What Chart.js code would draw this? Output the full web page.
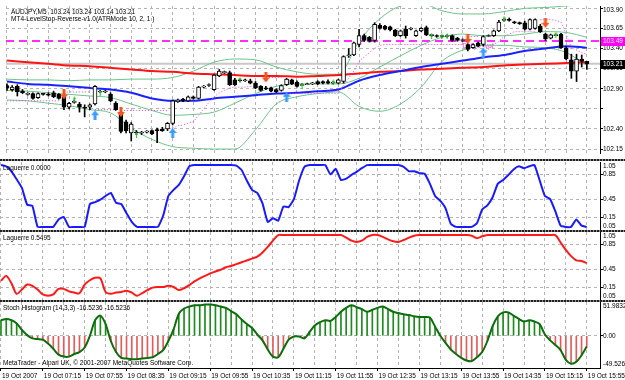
<!DOCTYPE html>
<html lang="es">
<head>
<meta charset="utf-8">
<title>AUDJPY M5</title>
<script src="https://cdn.jsdelivr.net/npm/chart.js@4.4.1/dist/chart.umd.min.js"></script>
<style>
  html, body { margin: 0; padding: 0; background: #ffffff; }
  #grafico { position: relative; width: 625px; height: 380px; overflow: hidden; background: #ffffff; }
  #grafico canvas { position: absolute; left: 0; }
  .separador { position: absolute; left: 0; width: 625px; height: 2px;
    background: repeating-linear-gradient(90deg, #202020 0 2px, #8c8c8c 2px 3px); }
</style>
</head>
<body>
<div id="grafico">
  <canvas id="cPrecio" width="625" height="159" style="top:0"></canvas>
  <canvas id="cLaguerre1" width="625" height="70" style="top:161px"></canvas>
  <canvas id="cLaguerre2" width="625" height="70" style="top:231px"></canvas>
  <canvas id="cStoch" width="625" height="79" style="top:301px"></canvas>
  <div class="separador" style="top:159px"></div>
  <div class="separador" style="top:230px"></div>
  <div class="separador" style="top:300px"></div>
</div>
<script>
// --- DATOS DEL GRÁFICO ---
const simbolo = 'AUDJPY,M5';
const nombreIndicador = 'MT4-LevelStop-Reverse-v1.0(ATRMode 10, 2, 1 )';
const pieTexto = 'MetaTrader - Alpari UK, © 2001-2007 MetaQuotes Software Corp.';

// una etiqueta cada 8 velas (40 minutos)
const etiquetasTiempo = ['19 Oct 2007', '19 Oct 07:15', '19 Oct 07:55', '19 Oct 08:35', '19 Oct 09:15',
    '19 Oct 09:55', '19 Oct 10:35', '19 Oct 11:15', '19 Oct 11:55', '19 Oct 12:35', '19 Oct 13:15',
    '19 Oct 13:55', '19 Oct 14:35', '19 Oct 15:15', '19 Oct 15:55'];

const aperturas = [
    102.94, 102.89, 102.93, 102.87, 102.83, 102.84, 102.79, 102.84, 102.83, 102.85,
    102.83, 102.80, 102.67, 102.73, 102.71, 102.67, 102.67, 102.71, 102.86, 102.86,
    102.83, 102.72, 102.61, 102.49, 102.35, 102.36, 102.35, 102.36, 102.38, 102.39,
    102.40, 102.40, 102.47, 102.74, 102.77, 102.75, 102.80, 102.78, 102.92, 102.94,
    102.89, 103.06, 103.10, 103.10, 103.01, 103.01, 103.00, 103.00, 102.97, 102.93,
    102.91, 102.91, 102.89, 102.88, 102.95, 103.01, 102.98, 102.94, 102.95, 102.96,
    102.99, 102.99, 102.99, 102.97, 102.97, 102.99, 103.31, 103.32, 103.45, 103.56,
    103.54, 103.50, 103.69, 103.68, 103.67, 103.63, 103.56, 103.64, 103.64, 103.56,
    103.62, 103.66, 103.57, 103.56, 103.56, 103.55, 103.56, 103.53, 103.50, 103.45,
    103.41, 103.47, 103.45, 103.55, 103.56, 103.62, 103.75, 103.76, 103.73, 103.72,
    103.72, 103.64, 103.65, 103.68, 103.58, 103.53, 103.56, 103.58, 103.41, 103.26,
    103.12, 103.27, 103.24];
const maximos = [
    102.96, 102.94, 102.95, 102.89, 102.85, 102.85, 102.85, 102.84, 102.85, 102.87,
    102.84, 102.84, 102.73, 102.76, 102.73, 102.70, 102.71, 102.94, 102.88, 102.88,
    102.85, 102.74, 102.62, 102.51, 102.48, 102.38, 102.37, 102.38, 102.39, 102.41,
    102.42, 102.48, 102.76, 102.77, 102.78, 102.81, 102.81, 102.93, 102.94, 102.96,
    103.08, 103.14, 103.12, 103.12, 103.03, 103.02, 103.02, 103.02, 102.99, 102.94,
    102.93, 102.92, 102.90, 102.95, 103.03, 103.02, 103.00, 102.96, 102.97, 102.98,
    103.00, 103.00, 103.01, 102.99, 103.02, 103.31, 103.40, 103.48, 103.64, 103.58,
    103.55, 103.72, 103.71, 103.69, 103.68, 103.64, 103.63, 103.68, 103.66, 103.63,
    103.66, 103.68, 103.57, 103.57, 103.56, 103.57, 103.57, 103.54, 103.52, 103.46,
    103.46, 103.48, 103.56, 103.57, 103.63, 103.75, 103.77, 103.78, 103.74, 103.73,
    103.74, 103.77, 103.77, 103.70, 103.59, 103.58, 103.58, 103.59, 103.42, 103.33,
    103.33, 103.32, 103.24];
const minimos = [
    102.88, 102.87, 102.81, 102.84, 102.82, 102.77, 102.78, 102.82, 102.81, 102.79,
    102.77, 102.64, 102.65, 102.72, 102.61, 102.55, 102.64, 102.70, 102.85, 102.85,
    102.74, 102.63, 102.35, 102.35, 102.25, 102.33, 102.33, 102.35, 102.33, 102.23,
    102.37, 102.38, 102.45, 102.73, 102.74, 102.74, 102.77, 102.77, 102.91, 102.93,
    102.88, 103.05, 103.09, 102.94, 102.94, 102.99, 102.99, 102.96, 102.90, 102.87,
    102.89, 102.86, 102.85, 102.87, 102.94, 102.95, 102.92, 102.94, 102.95, 102.95,
    102.95, 102.96, 102.96, 102.96, 102.96, 102.97, 103.29, 103.31, 103.42, 103.49,
    103.48, 103.48, 103.64, 103.63, 103.62, 103.55, 103.55, 103.53, 103.63, 103.55,
    103.61, 103.56, 103.55, 103.54, 103.54, 103.54, 103.49, 103.49, 103.49, 103.37,
    103.40, 103.42, 103.43, 103.55, 103.55, 103.61, 103.74, 103.74, 103.71, 103.70,
    103.63, 103.63, 103.64, 103.60, 103.50, 103.52, 103.56, 103.40, 103.26, 103.03,
    102.99, 103.17, 103.14];
const cierres = [
    102.91, 102.92, 102.86, 102.85, 102.84, 102.78, 102.84, 102.83, 102.82, 102.80,
    102.78, 102.67, 102.72, 102.74, 102.67, 102.66, 102.70, 102.93, 102.87, 102.87,
    102.75, 102.64, 102.37, 102.38, 102.46, 102.35, 102.36, 102.37, 102.34, 102.38,
    102.38, 102.47, 102.75, 102.76, 102.75, 102.80, 102.78, 102.92, 102.93, 102.95,
    103.07, 103.12, 103.11, 102.95, 102.95, 103.00, 103.01, 102.97, 102.91, 102.88,
    102.90, 102.87, 102.86, 102.94, 103.02, 102.96, 102.93, 102.95, 102.96, 102.97,
    102.96, 102.97, 102.97, 102.98, 103.01, 103.30, 103.32, 103.47, 103.56, 103.50,
    103.49, 103.70, 103.65, 103.64, 103.63, 103.56, 103.62, 103.56, 103.65, 103.62,
    103.65, 103.57, 103.56, 103.55, 103.55, 103.56, 103.50, 103.50, 103.51, 103.39,
    103.45, 103.43, 103.55, 103.56, 103.62, 103.73, 103.76, 103.75, 103.72, 103.71,
    103.64, 103.76, 103.76, 103.61, 103.52, 103.57, 103.57, 103.41, 103.27, 103.12,
    103.27, 103.24, 103.21];

// lineas suaves leidas cada 4 velas
const barrasMuestra = [0, 4, 8, 12, 16, 20, 24, 28, 32, 36, 40, 44, 48, 52, 56, 60, 64, 68, 72, 76,
    80, 84, 88, 92, 96, 100, 104, 108, 112];
const bandaSuperior = [103.02, 103.01, 103.01, 103.00, 103.01, 103.01, 103.02, 103.02, 103.04, 103.12,
    103.23, 103.27, 103.26, 103.17, 103.11, 103.08, 103.08, 103.49, 103.77, 103.93,
    103.96, 103.87, 103.83, 103.83, 103.86, 103.90, 103.91, 103.93, 103.95];
const bandaMedia = [102.88, 102.87, 102.85, 102.83, 102.81, 102.79, 102.71, 102.63, 102.57, 102.58,
    102.61, 102.72, 102.84, 102.93, 102.96, 102.96, 102.96, 103.03, 103.17, 103.31,
    103.44, 103.54, 103.58, 103.56, 103.56, 103.58, 103.61, 103.60, 103.54];
const bandaInferior = [102.76, 102.75, 102.72, 102.69, 102.64, 102.60, 102.41, 102.27, 102.18, 102.16,
    102.15, 102.15, 102.39, 102.71, 102.80, 102.84, 102.86, 102.68, 102.62, 102.71,
    102.92, 103.24, 103.38, 103.44, 103.44, 103.42, 103.41, 103.35, 103.19];
const mediaRoja = [103.25, 103.23, 103.21, 103.19, 103.18, 103.16, 103.14, 103.12, 103.11, 103.09,
    103.08, 103.07, 103.06, 103.06, 103.05, 103.06, 103.07, 103.09, 103.11, 103.12,
    103.14, 103.15, 103.16, 103.17, 103.19, 103.20, 103.21, 103.22, 103.23];
const mediaAzul = [102.99, 102.96, 102.95, 102.93, 102.91, 102.89, 102.85, 102.78, 102.75, 102.75,
    102.78, 102.80, 102.82, 102.84, 102.85, 102.87, 102.89, 103.00, 103.07, 103.12,
    103.17, 103.21, 103.25, 103.29, 103.32, 103.37, 103.40, 103.43, 103.41];

// LevelStop-Reverse: stop largo (debajo) y corto (encima)
const stopLargo = [
    102.75, 102.75, 102.75, 102.75, 102.75, 102.75, 102.75, 102.75, 102.75, 102.75,
    102.75, null, null, null, null, null, null, 102.64, 102.64, 102.64,
    102.64, 102.64, null, null, null, null, null, null, null, null,
    null, null, 102.41, 102.44, 102.45, 102.47, 102.49, 102.57, 102.65, 102.73,
    102.80, 102.85, 102.88, 102.91, 102.92, 102.92, 102.92, 102.93, 102.93, 102.93,
    null, null, null, null, 102.84, 102.84, 102.84, 102.84, 102.84, 102.84,
    102.84, 102.84, 102.84, 102.84, 102.84, 102.95, 103.03, 103.12, 103.24, 103.30,
    103.35, 103.40, 103.44, 103.45, 103.45, 103.45, 103.45, 103.45, 103.45, 103.45,
    103.45, 103.45, 103.45, 103.45, 103.45, 103.45, 103.45, 103.45, 103.45, null,
    null, null, 103.35, 103.39, 103.45, 103.49, 103.55, 103.58, 103.61, 103.61,
    103.61, 103.61, 103.61, null, null, null, null, null, null, null,
    null, null, null];
const stopCorto = [
    null, null, null, null, null, null, null, null, null, null,
    null, 102.86, 102.86, 102.86, 102.86, 102.86, 102.86, null, null, null,
    null, null, 102.63, 102.63, 102.63, 102.63, 102.63, 102.63, 102.63, 102.63,
    102.63, 102.63, null, null, null, null, null, null, null, null,
    null, null, null, null, null, null, null, null, null, null,
    103.04, 103.04, 103.04, 103.04, null, null, null, null, null, null,
    null, null, null, null, null, null, null, null, null, null,
    null, null, null, null, null, null, null, null, null, null,
    null, null, null, null, null, null, null, null, null, 103.55,
    103.55, 103.55, null, null, null, null, null, null, null, null,
    null, null, null, 103.76, 103.76, 103.76, 103.75, 103.73, 103.58, 103.41,
    103.38, 103.35, 103.33];

const pivoteDiario = 103.49;
const barraTextoPivote = 88;

// flechas de señal
const barrasVenta = [11, 22, 50, 89, 104];
const nivelesVenta = [102.83, 102.61, 103.04, 103.52, 103.72];
const barrasCompra = [17, 32, 54, 92];
const nivelesCompra = [102.57, 102.35, 102.80, 103.35];
const barrasMarca = [13, 18, 25, 45, 57, 63, 82, 84, 85, 96, 106];
const nivelesMarca = [102.77, 102.85, 102.33, 103.01, 102.94, 102.98, 103.56, 103.55, 103.55, 103.77, 103.57];

const laguerreRapido = [
    1.00, 0.98, 0.90, 0.77, 0.63, 0.36, 0.34, 0, 0, 0,
    0, 0.12, 0.16, 0, 0, 0, 0, 0.37, 0.40, 0.44,
    0.50, 0.55, 0.39, 0.37, 0.22, 0.08, 0, 0, 0, 0,
    0, 0.18, 0.50, 0.60, 0.68, 0.82, 0.98, 1, 1, 1,
    1, 1, 1, 1, 1, 0.99, 0.92, 0.75, 0.60, 0.55,
    0.38, 0.08, 0.14, 0.10, 0.33, 0.32, 0.45, 0.75, 0.97, 1,
    1, 1, 1, 0.85, 0.94, 0.76, 0.78, 0.84, 0.89, 0.95,
    1, 1, 1, 1, 1, 1, 1, 0.97, 0.90, 0.90,
    0.87, 0.86, 0.70, 0.50, 0.42, 0.30, 0.05, 0, 0, 0,
    0, 0.06, 0.28, 0.35, 0.48, 0.70, 0.76, 0.84, 0.93, 0.98,
    0.95, 0.98, 1, 0.75, 0.50, 0.45, 0.25, 0.02, 0, 0,
    0.12, 0.02, 0];
const laguerreLento = [
    0.26, 0.34, 0.22, 0.05, 0.12, 0.20, 0.18, 0.12, 0.04, 0.02,
    0.04, 0.13, 0.13, 0.09, 0.07, 0.06, 0.20, 0.27, 0.31, 0.30,
    0.08, 0.05, 0.07, 0.08, 0.10, 0.07, 0.02, 0.06, 0.11, 0.15,
    0.16, 0.16, 0.18, 0.16, 0.11, 0.14, 0.19, 0.25, 0.30, 0.34,
    0.38, 0.41, 0.44, 0.48, 0.50, 0.53, 0.56, 0.59, 0.62, 0.65,
    0.72, 0.81, 0.91, 1, 1, 1, 1, 1, 1, 1,
    1, 1, 1, 1, 1, 1, 0.96, 0.91, 0.89, 0.91,
    0.97, 1, 1, 0.97, 0.93, 0.90, 0.89, 0.92, 0.96, 0.99,
    1, 1, 1, 1, 1, 1, 1, 1, 1, 1,
    0.99, 0.95, 0.98, 1, 1, 1, 1, 1, 1, 1,
    1, 1, 1, 1, 1, 1, 1, 0.88, 0.76, 0.66,
    0.59, 0.58, 0.5495];
const stochHistograma = [
    24, 26, 24, 19, 9, 1, -4, -5, -6, -12,
    -20, -29, -32, -32, -28, -25, -18, 0, 24, 31,
    18, -8, -25, -34, -35, -36, -36, -35, -34, -33,
    -28, -22, -8, 10, 34, 42, 45, 47, 47, 48,
    48, 47, 45, 43, 38, 33, 25, 18, 12, 2,
    -7, -21, -32, -33, -20, -6, -1, -1, -4, 6,
    16, 21, 24, 23, 29, 37, 43, 47, 44, 41,
    37, 40, 43, 45, 41, 37, 35, 33, 32, 30,
    29, 29, 28, 14, 0, -11, -21, -28, -34, -38,
    -39, -33, -25, -8, 15, 30, 36, 36, 31, 26,
    22, 24, 22, 18, 2, -7, -14, -22, -37, -43,
    -40, -30, -16.5236];
const stochMaximo = 51.9832;
const stochMinimo = -49.5264;

// --- CONFIGURACIÓN GENERAL ---
const FAMILIA = '"Liberation Sans", Arial, sans-serif';
const TAM = 6.5;
const FUENTE = TAM + 'px ' + FAMILIA;
const COLOR_REJILLA = '#b4b4b4';
const X_MIN = -0.19;
const X_MAX = 114.53;

const porBarra = (valores) => valores.map((v, i) => ({ x: i, y: v }));
const enBarras = (barras, valores) => barras.map((b, i) => ({ x: b, y: valores[i] }));

function ejeX(conEtiquetas) {
    return {
        type: 'linear',
        min: X_MIN,
        max: X_MAX,
        offset: false,
        afterBuildTicks: (escala) => {
            const marcas = [];
            for (let i = 0; i < cierres.length; i += 4) marcas.push({ value: i });
            escala.ticks = marcas;
        },
        grid: {
            offset: false,
            color: COLOR_REJILLA,
            drawTicks: conEtiquetas,
            tickLength: 3,
            tickBorderDash: [],
            tickColor: (c) => (c.tick && c.tick.value % 8 === 0) ? '#000' : 'rgba(0,0,0,0)'
        },
        border: { display: conEtiquetas, color: '#000', width: 1, dash: [3, 3] },
        ticks: {
            display: conEtiquetas,
            autoSkip: false,
            maxRotation: 0,
            align: 'start',
            padding: 1,
            labelOffset: 1,
            color: '#000',
            font: { family: FAMILIA, size: TAM },
            callback: (v) => (v % 8 === 0 ? etiquetasTiempo[v / 8] : '')
        },
        afterFit: (escala) => {
            escala.height = conEtiquetas ? 12 : 0;
            escala.paddingLeft = 0;
            escala.paddingRight = 0;
        }
    };
}

function ejeY(minimo, maximo, rejilla) {
    return {
        type: 'linear',
        position: 'right',
        min: minimo,
        max: maximo,
        afterBuildTicks: (escala) => { escala.ticks = rejilla.map((v) => ({ value: v })); },
        grid: { color: COLOR_REJILLA, drawTicks: true, tickLength: 3, tickColor: '#000', tickBorderDash: [] },
        border: { display: true, color: '#000', width: 1, dash: [3, 3] },
        ticks: { display: false },
        afterFit: (escala) => { escala.width = 25; escala.paddingTop = 0; escala.paddingBottom = 0; }
    };
}

function opciones(escalaY, conEtiquetasX, relleno) {
    return {
        responsive: false,
        animation: false,
        events: [],
        devicePixelRatio: 1,
        layout: { padding: relleno },
        plugins: { legend: { display: false }, tooltip: { enabled: false } },
        scales: { x: ejeX(conEtiquetasX), y: escalaY }
    };
}

// etiquetas del eje derecho y recuadros de precio
function ejeDerecho(valores, textos, recuadros) {
    return {
        id: 'ejeDerecho',
        afterDraw(chart) {
            const { ctx, chartArea } = chart;
            const y = chart.scales.y;
            ctx.save();
            ctx.font = FUENTE;
            ctx.textAlign = 'left';
            ctx.textBaseline = 'middle';
            ctx.fillStyle = '#000';
            valores.forEach((v, i) => {
                let py = y.getPixelForValue(v);
                py = Math.min(Math.max(py, chartArea.top + 4), chartArea.bottom - 4);
                ctx.fillText(textos[i], chartArea.right + 3, py);
            });
            (recuadros || []).forEach((r) => {
                const py = Math.round(y.getPixelForValue(r.valor));
                ctx.fillStyle = r.fondo;
                ctx.fillRect(chartArea.right + 1, py - 4, 24, 9);
                ctx.fillStyle = r.color;
                ctx.fillText(r.valor.toFixed(2), chartArea.right + 3, py + 0.5);
            });
            ctx.restore();
        }
    };
}

function titulos(lineas) {
    return {
        id: 'titulos',
        afterDraw(chart) {
            const { ctx, chartArea } = chart;
            ctx.save();
            ctx.font = FUENTE;
            ctx.textAlign = 'left';
            ctx.textBaseline = 'middle';
            ctx.fillStyle = '#000';
            lineas.forEach((l) => ctx.fillText(l.texto, chartArea.left + l.x, chartArea.top + l.y));
            ctx.restore();
        }
    };
}

const lineasPrecio = {
    id: 'lineasPrecio',
    beforeDatasetsDraw(chart) {
        const { ctx, chartArea: a, scales } = chart;
        const yPivote = Math.round(scales.y.getPixelForValue(pivoteDiario));
        const yCierre = scales.y.getPixelForValue(cierres[cierres.length - 1]);
        ctx.save();
        ctx.strokeStyle = '#c8c8c8';
        ctx.lineWidth = 2;
        ctx.beginPath();
        ctx.moveTo(a.left, yCierre);
        ctx.lineTo(a.right, yCierre);
        ctx.stroke();
        ctx.strokeStyle = '#ff2cff';
        ctx.lineWidth = 2;
        ctx.setLineDash([8, 5]);
        ctx.beginPath();
        ctx.moveTo(a.left, yPivote);
        ctx.lineTo(a.right, yPivote);
        ctx.stroke();
        ctx.setLineDash([]);
        ctx.font = FUENTE;
        ctx.fillStyle = '#ff33ff';
        ctx.textBaseline = 'top';
        ctx.fillText('Daily Pivot', scales.x.getPixelForValue(barraTextoPivote), yPivote + 2);
        ctx.restore();
    }
};

// imagen de flecha para los puntos de señal
function flecha(color, haciaArriba, ancho, alto) {
    const c = document.createElement('canvas');
    c.width = ancho;
    c.height = alto;
    const g = c.getContext('2d');
    g.fillStyle = color;
    const medio = ancho / 2;
    const cabeza = Math.round(alto * 0.5);
    const eje = Math.max(1, Math.round(ancho / 3));
    if (haciaArriba) {
        g.beginPath(); g.moveTo(medio, 0); g.lineTo(ancho, cabeza); g.lineTo(0, cabeza); g.closePath(); g.fill();
        g.fillRect(medio - eje / 2, cabeza, eje, alto - cabeza);
    } else {
        g.fillRect(medio - eje / 2, 0, eje, alto - cabeza);
        g.beginPath(); g.moveTo(0, alto - cabeza); g.lineTo(ancho, alto - cabeza); g.lineTo(medio, alto); g.closePath(); g.fill();
    }
    return c;
}

function lineaSuave(valores, color, ancho, orden) {
    return {
        type: 'line', data: enBarras(barrasMuestra, valores), borderColor: color, borderWidth: ancho,
        pointRadius: 0, cubicInterpolationMode: 'monotone', order: orden
    };
}

function senales(barras, niveles, imagen) {
    return {
        type: 'line', data: enBarras(barras, niveles), showLine: false,
        pointStyle: imagen, pointRadius: 5, order: 0
    };
}

// --- PANEL DE PRECIO ---
function dibujarPrecio() {
    const ultimo = cierres.length - 1;
    const titulo = simbolo + '  ' + [aperturas[ultimo], maximos[ultimo], minimos[ultimo], cierres[ultimo]]
        .map((v) => v.toFixed(2)).join(' ');
    const etiquetas = [103.90, 103.65, 103.40, 103.15, 102.90, 102.40, 102.15];
    new Chart(document.getElementById('cPrecio'), {
        type: 'line',
        data: {
            datasets: [
                senales(barrasVenta, nivelesVenta, flecha('#f2561d', false, 8, 10)),
                senales(barrasCompra, nivelesCompra, flecha('#3b9cff', true, 8, 10)),
                senales(barrasMarca, nivelesMarca, flecha('#22c422', true, 3, 6)),
                {
                    type: 'bar', grouped: false, order: 1, barThickness: 4, minBarLength: 1,
                    data: aperturas.map((o, i) => ({ x: i, y: [o, cierres[i]] })),
                    backgroundColor: aperturas.map((o, i) => (cierres[i] >= o ? '#ffffff' : '#000000')),
                    borderColor: '#000', borderWidth: 1, borderSkipped: false
                },
                {
                    type: 'bar', grouped: false, order: 2, barThickness: 1,
                    data: minimos.map((l, i) => ({ x: i, y: [l, maximos[i]] })),
                    backgroundColor: '#000'
                },
                {
                    type: 'line', data: porBarra(stopLargo), borderColor: '#ff3cff', borderWidth: 1,
                    borderDash: [1, 2], pointRadius: 0, order: 3
                },
                {
                    type: 'line', data: porBarra(stopCorto), borderColor: '#ff3cff', borderWidth: 1,
                    borderDash: [1, 2], pointRadius: 0, order: 3
                },
                lineaSuave(mediaAzul, '#1a22ff', 2, 4),
                lineaSuave(mediaRoja, '#ff1414', 2, 5),
                lineaSuave(bandaSuperior, '#6cc48a', 1, 6),
                lineaSuave(bandaMedia, '#6cc48a', 1, 7),
                lineaSuave(bandaInferior, '#6cc48a', 1, 8)
            ]
        },
        options: opciones(ejeY(102.101, 103.929,
            [103.90, 103.65, 103.40, 103.15, 102.90, 102.65, 102.40, 102.15]), false, 0),
        plugins: [
            lineasPrecio,
            ejeDerecho(etiquetas, etiquetas.map((v) => v.toFixed(2)), [
                { valor: pivoteDiario, fondo: '#ff00ff', color: '#ffffff' },
                { valor: cierres[ultimo], fondo: '#000000', color: '#ffffff' }
            ]),
            titulos([
                { texto: titulo, x: 5, y: 6 },
                { texto: nombreIndicador, x: 5, y: 13.5 }
            ])
        ]
    });
}

// --- PANELES LAGUERRE ---
function dibujarLaguerre(idCanvas, valores, color, tension) {
    const niveles = [1.05, 0.85, 0.45, 0.15, -0.05];
    new Chart(document.getElementById(idCanvas), {
        type: 'line',
        data: {
            datasets: [{
                data: porBarra(valores), borderColor: color, borderWidth: 2, pointRadius: 0, tension: tension
            }]
        },
        options: opciones(ejeY(-0.05, 1.05, [0.85, 0.45, 0.15]), false, { top: 1, bottom: 1 }),
        plugins: [
            ejeDerecho(niveles, ['1.05', '0.85', '0.45', '0.15', '0.05']),
            titulos([{ texto: 'Laguerre ' + valores[valores.length - 1].toFixed(4), x: 3, y: 6 }])
        ]
    });
}

// --- PANEL STOCH HISTOGRAM ---
function dibujarStoch() {
    const ultimo = stochHistograma[stochHistograma.length - 1].toFixed(4);
    new Chart(document.getElementById('cStoch'), {
        type: 'line',
        data: {
            datasets: [
                {
                    type: 'line', data: porBarra(stochHistograma), borderColor: '#0c6e0c', borderWidth: 2,
                    pointRadius: 0, tension: 0.3, order: 0
                },
                {
                    type: 'bar', grouped: false, order: 1, barThickness: 1,
                    data: porBarra(stochHistograma),
                    backgroundColor: stochHistograma.map((v) => (v >= 0 ? '#1b8c1b' : '#e35a5a'))
                }
            ]
        },
        options: opciones(ejeY(stochMinimo, stochMaximo, [0]), true, { top: 1 }),
        plugins: [
            ejeDerecho([stochMaximo, 0, stochMinimo], [stochMaximo.toFixed(4), '0.00', stochMinimo.toFixed(4)]),
            titulos([
                { texto: 'Stoch Histogram (14,3,3) ' + ultimo + ' ' + ultimo, x: 3, y: 6 },
                { texto: pieTexto, x: 3, y: 61 }
            ])
        ]
    });
}

// --- Carga inicial ---
dibujarPrecio();
dibujarLaguerre('cLaguerre1', laguerreRapido, '#1a1aff', 0.15);
dibujarLaguerre('cLaguerre2', laguerreLento, '#ff1a1a', 0.3);
dibujarStoch();
</script>
</body>
</html>
